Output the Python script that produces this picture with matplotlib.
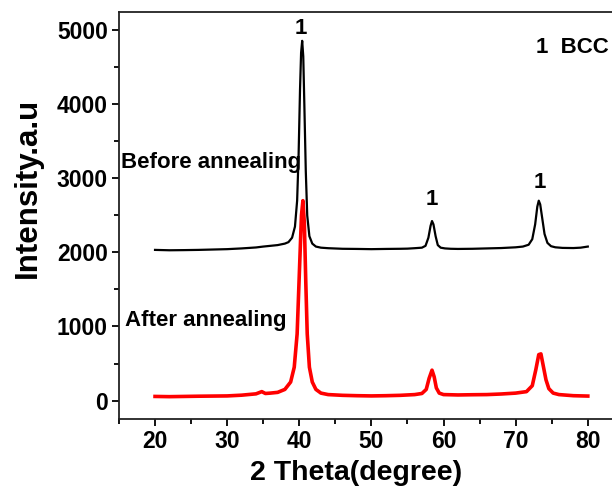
import matplotlib
matplotlib.use("Agg")
import matplotlib.pyplot as plt
from matplotlib.ticker import MultipleLocator

plt.rcParams['font.family'] = ['Liberation Sans', 'DejaVu Sans']
plt.rcParams['font.weight'] = 'bold'

# Before annealing (black)
before_x = [20, 22, 24, 26, 28, 30, 32, 34, 35, 36, 37, 38, 38.5, 39, 39.4, 39.7, 39.9, 40.1, 40.25, 40.4,
            40.55, 40.7, 40.9, 41.1, 41.4, 41.8, 42.3, 43, 44, 46, 48, 50, 52, 54, 55, 56, 57, 57.5, 57.9,
            58.2, 58.4, 58.6, 58.9, 59.2, 59.6, 60.2, 61, 62, 64, 66, 68, 70, 71, 71.8, 72.3, 72.7, 73.0,
            73.2, 73.4, 73.7, 74.0, 74.4, 74.9, 75.5, 76.5, 78, 79, 80]
before_y = [2035, 2030, 2032, 2035, 2040, 2045, 2055, 2068, 2080, 2090, 2100, 2120, 2140, 2200, 2350, 2700,
            3300, 4200, 4700, 4860, 4650, 4000, 3100, 2500, 2220, 2120, 2080, 2065, 2058, 2050, 2048, 2045,
            2048, 2050, 2052, 2058, 2065, 2090, 2200, 2360, 2425, 2380, 2220, 2100, 2065, 2055, 2050, 2048,
            2050, 2055, 2060, 2070, 2080, 2105, 2180, 2380, 2620, 2700, 2650, 2450, 2250, 2130, 2085, 2070,
            2062, 2060, 2065, 2080]

# After annealing (red)
after_x = [20, 22, 24, 26, 28, 30, 32, 34, 34.8, 35.3, 36, 37, 38, 38.8, 39.3, 39.7, 40.0, 40.3, 40.5,
           40.7, 40.9, 41.1, 41.4, 41.8, 42.3, 43, 44, 46, 48, 50, 52, 54, 56, 57, 57.6, 58.0, 58.4, 58.7,
           59.0, 59.4, 60, 62, 64, 66, 68, 70, 71.5, 72.3, 72.8, 73.2, 73.5, 73.8, 74.2, 74.6, 75.2, 76,
           78, 80]
after_y = [55, 52, 55, 58, 60, 62, 72, 90, 120, 95, 100, 110, 150, 250, 450, 900, 1700, 2500, 2700,
           2400, 1600, 900, 450, 250, 150, 100, 80, 70, 65, 62, 65, 70, 80, 95, 150, 300, 410, 320,
           170, 100, 80, 75, 78, 80, 88, 100, 120, 200, 420, 620, 630, 480, 280, 160, 100, 80,
           65, 60]

x_ticks = [20, 30, 40, 50, 60, 70, 80]
y_ticks = [0, 1000, 2000, 3000, 4000, 5000]

peak_labels_x = [40.25, 58.4, 73.3]
peak_labels_y = [5030, 2710, 2940]

fig = plt.figure(figsize=(6.12, 4.94), dpi=100)
ax = fig.add_axes([0.1944, 0.1518, 0.825, 0.824])

ax.plot(before_x, before_y, color='black', lw=1.6)
ax.plot(after_x, after_y, color='#ff0000', lw=2.6)

ax.set_xlim(15, 85)
ax.set_ylim(-250, 5250)
ax.set_xticks(x_ticks)
ax.set_yticks(y_ticks)
ax.xaxis.set_minor_locator(MultipleLocator(5))
ax.yaxis.set_minor_locator(MultipleLocator(500))
ax.tick_params(which='major', direction='out', length=5, width=1.3, labelsize=16.5, pad=3)
ax.tick_params(which='minor', direction='out', length=3.5, width=1.3)
for lab in ax.get_xticklabels() + ax.get_yticklabels():
    lab.set_fontweight('bold')
for s in ax.spines.values():
    s.set_linewidth(1.3)
    s.set_color('#222222')

for px, py in zip(peak_labels_x, peak_labels_y):
    ax.text(px, py, '1', ha='center', va='center', fontsize=16, fontweight='bold')

ax.text(77.8, 4770, '1  BCC', ha='center', va='center', fontsize=16, fontweight='bold')
ax.text(15.25, 3220, 'Before annealing', ha='left', va='center', fontsize=16, fontweight='bold')
ax.text(15.8, 1078, 'After annealing', ha='left', va='center', fontsize=16, fontweight='bold')

fig.text(356 / 612, 1 - 473 / 494, '2 Theta(degree)', ha='center', va='center', fontsize=20.5, fontweight='bold')
fig.text(28 / 612, 1 - 188 / 494, 'Intensity.a.u', ha='center', va='center', rotation=90, fontsize=22.5, fontweight='bold')

fig.savefig('out.png', dpi=100)
